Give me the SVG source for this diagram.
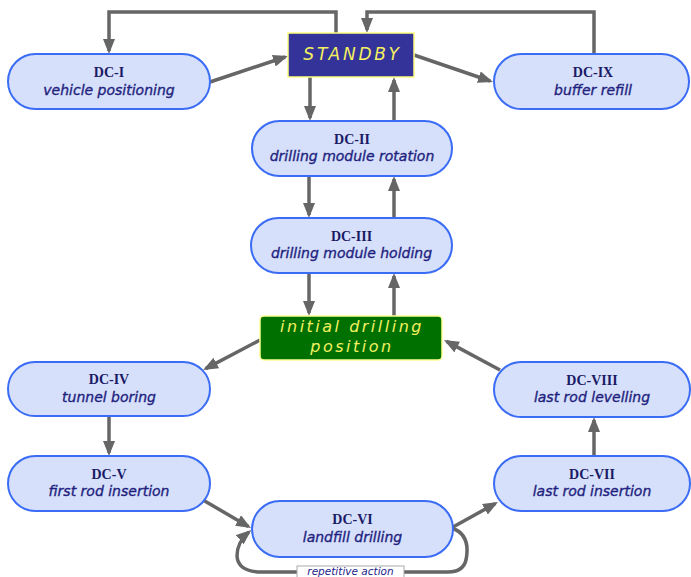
<svg xmlns="http://www.w3.org/2000/svg" width="691" height="577" viewBox="0 0 691 577">
<style>
.node{fill:#d6e0fb;stroke:#3a6cf5;stroke-width:2}
.t{font-family:"Liberation Serif","Times New Roman",serif;font-weight:bold;font-size:14px;fill:#1a1a66;text-anchor:middle}
.s{font-family:"DejaVu Sans",Verdana,sans-serif;font-style:italic;font-size:14px;fill:#1f1f7e;stroke:#1f1f7e;stroke-width:0.35;text-anchor:middle}
.y{font-family:"DejaVu Sans",Verdana,sans-serif;font-style:italic;fill:#f4f060;text-anchor:middle}
.c{fill:none;stroke:#666666;stroke-width:3.5}
</style>
<defs>
<marker id="ah" viewBox="0 0 15 12" refX="12" refY="6" markerWidth="15" markerHeight="12" markerUnits="userSpaceOnUse" orient="auto">
<path d="M0,0 L15,6 L0,12 z" fill="#666666"/>
</marker>
</defs>
<rect width="691" height="577" fill="#ffffff"/>
<g id="connectors">
<path class="c" marker-end="url(#ah)" d="M336,33 V12 H109 V51"/>
<path class="c" marker-end="url(#ah)" d="M594,54 V12 H367 V30"/>
<path class="c" marker-end="url(#ah)" d="M210,82 L285.2,57"/>
<path class="c" marker-end="url(#ah)" d="M414,55 L490.2,81"/>
<path class="c" marker-end="url(#ah)" d="M310,77 V118"/>
<path class="c" marker-end="url(#ah)" d="M394,121 V80"/>
<path class="c" marker-end="url(#ah)" d="M309,176 V215"/>
<path class="c" marker-end="url(#ah)" d="M394,218 V179"/>
<path class="c" marker-end="url(#ah)" d="M309,273 V313"/>
<path class="c" marker-end="url(#ah)" d="M394,316 V276"/>
<path class="c" marker-end="url(#ah)" d="M260,340 L205.7,368.6"/>
<path class="c" marker-end="url(#ah)" d="M500,370 L446.6,341.4"/>
<path class="c" marker-end="url(#ah)" d="M109,416 V453"/>
<path class="c" marker-end="url(#ah)" d="M203,500 L248.4,526.5"/>
<path class="c" marker-end="url(#ah)" d="M453,527 L495.4,503.5"/>
<path class="c" marker-end="url(#ah)" d="M594,456 V420"/>
<path class="c" marker-end="url(#ah)" d="M452,528 C469,534 468,550 466,560 Q463,572 448,572 H262 Q238,572 237,556 Q237,542 249,532"/>
<rect x="297" y="566" width="107" height="14" fill="#ffffff" stroke="#aaaaaa" stroke-width="1"/>
<text x="350.5" y="575" font-family="DejaVu Sans, Verdana, sans-serif" font-style="italic" font-size="10.5" fill="#24248a" text-anchor="middle">repetitive action</text>
</g>
<g id="standby">
<rect x="288" y="33" width="126" height="44" fill="#333399" stroke="#ffff80" stroke-width="1.5"/>
<text class="y" x="352.5" y="60" font-size="17" letter-spacing="2.8">STANDBY</text>
</g>
<g id="dc1">
<rect class="node" x="8" y="54" width="202" height="55" rx="27.5"/>
<text class="t" x="109" y="77">DC-I</text>
<text class="s" x="109" y="94.5">vehicle positioning</text>
</g>
<g id="dc9">
<rect class="node" x="494" y="54" width="195" height="55" rx="27.5"/>
<text class="t" x="593" y="77">DC-IX</text>
<text class="s" x="593" y="94.5">buffer refill</text>
</g>
<g id="dc2">
<rect class="node" x="252" y="121" width="200" height="55" rx="27.5"/>
<text class="t" x="352" y="143.5">DC-II</text>
<text class="s" x="352" y="161">drilling module rotation</text>
</g>
<g id="dc3">
<rect class="node" x="251" y="218" width="201" height="55" rx="27.5"/>
<text class="t" x="351.5" y="240.5">DC-III</text>
<text class="s" x="351.5" y="258">drilling module holding</text>
</g>
<g id="initial">
<rect x="260" y="316" width="182" height="44" rx="4" fill="#007000" stroke="#ffff90" stroke-width="1.5"/>
<text class="y" x="352" y="332" font-size="16" letter-spacing="2.5">initial drilling</text>
<text class="y" x="352" y="352" font-size="16" letter-spacing="2.5">position</text>
</g>
<g id="dc4">
<rect class="node" x="8" y="362" width="202" height="54" rx="27"/>
<text class="t" x="109" y="384">DC-IV</text>
<text class="s" x="109" y="401.5">tunnel boring</text>
</g>
<g id="dc5">
<rect class="node" x="8" y="456" width="202" height="55" rx="27.5"/>
<text class="t" x="109" y="478.5">DC-V</text>
<text class="s" x="109" y="496">first rod insertion</text>
</g>
<g id="dc6">
<rect class="node" x="252" y="501" width="201" height="56" rx="28"/>
<text class="t" x="352.5" y="524">DC-VI</text>
<text class="s" x="352.5" y="541.5">landfill drilling</text>
</g>
<g id="dc7">
<rect class="node" x="494" y="456" width="196" height="55" rx="27.5"/>
<text class="t" x="592" y="478.5">DC-VII</text>
<text class="s" x="592" y="496">last rod insertion</text>
</g>
<g id="dc8">
<rect class="node" x="494" y="362" width="196" height="55" rx="27.5"/>
<text class="t" x="592" y="384.5">DC-VIII</text>
<text class="s" x="592" y="402">last rod levelling</text>
</g>
</svg>
